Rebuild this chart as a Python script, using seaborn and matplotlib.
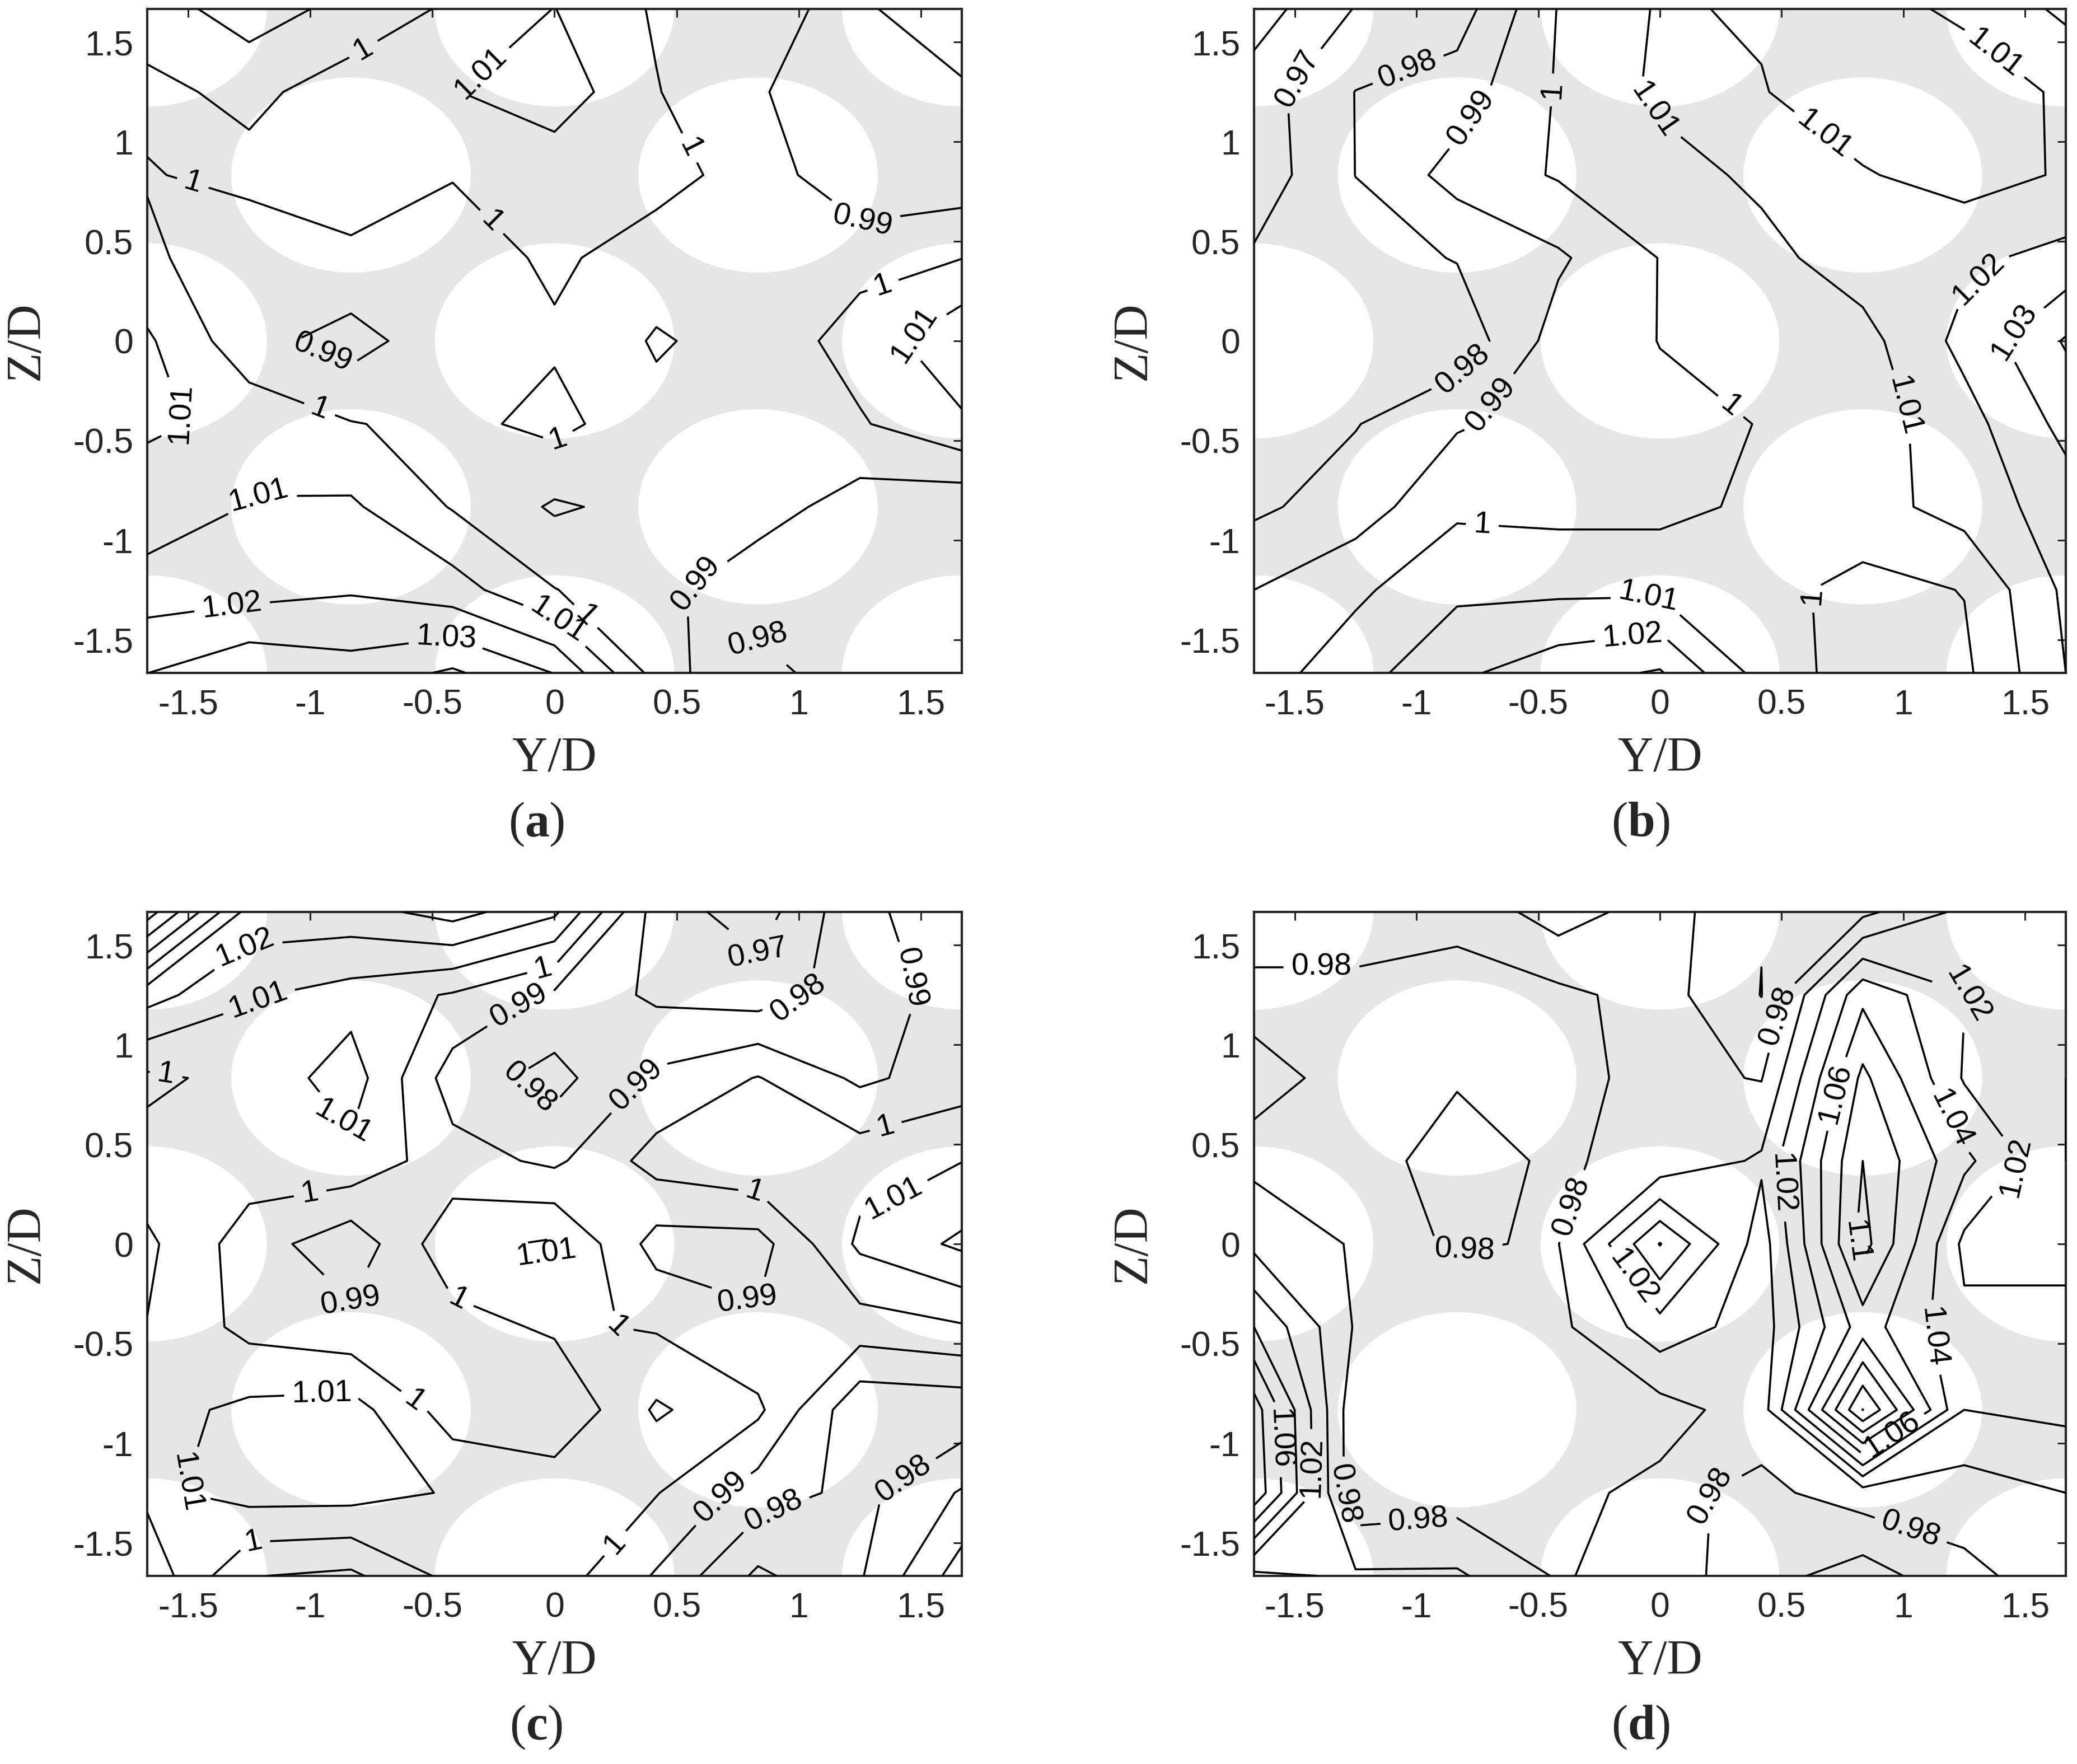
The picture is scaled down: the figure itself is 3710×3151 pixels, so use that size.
import numpy as np
import matplotlib
matplotlib.use('Agg')
import matplotlib.pyplot as plt
from matplotlib.patches import Ellipse
import seaborn as sns

# measurement grid (Y/D across, Z/D rows listed from top to bottom)
y_nodes = [-1.667, -1.25, -0.833, -0.417, 0.0, 0.417, 0.833, 1.25, 1.667]
z_nodes = [1.667, 1.25, 0.833, 0.417, 0.0, -0.417, -0.833, -1.25, -1.667]

# normalised velocity, panel (a)
u_a = [
    [0.995, 0.985, 0.9933, 1.0017, 1.0102, 0.9988, 0.992, 0.988, 0.999],
    [1.0025, 0.9975, 1.005, 1.0095, 1.016, 1.0005, 0.9905, 0.986, 0.988],
    [0.9993, 1.003, 1.004, 1.0005, 1.0035, 1.0036, 0.9958, 0.981, 0.9836],
    [1.002, 0.993, 0.9985, 0.995, 1.0018, 0.995, 0.996, 0.997, 0.9998],
    [1.0115, 0.9934, 0.9858, 0.9972, 0.9986, 0.989, 0.994, 1.0041, 1.0177],
    [1.012, 1.0066, 1.0005, 0.9972, 1.003, 0.993, 0.995, 0.999, 1.0083],
    [1.0033, 1.0105, 1.0115, 0.9993, 0.9887, 0.9932, 0.9947, 0.9852, 0.9825],
    [1.015, 1.0163, 1.019, 1.0144, 1.0003, 0.993, 0.983, 0.985, 0.986],
    [1.0299, 1.038, 1.034, 1.0415, 1.0297, 0.996, 0.978, 0.9834, 0.985],
]

# panel (b)
u_b = [
    [0.955, 0.9705, 0.975, 1.0005, 1.011, 1.009, 1.006, 1.012, 1.022],
    [0.965, 0.9802, 0.985, 1.001, 1.012, 1.0105, 1.004, 1.004, 1.0117],
    [0.964, 0.9801, 0.9939, 1.0009, 1.006, 1.012, 1.0108, 1.006, 1.011],
    [0.9713, 0.976, 0.9805, 0.9885, 1.0003, 1.007, 1.0151, 1.018, 1.023],
    [0.975, 0.976, 0.9733, 0.9942, 1.0002, 1.005, 1.0065, 1.023, 1.041],
    [0.975, 0.9795, 0.989, 0.994, 0.998, 1.0002, 1.005, 1.016, 1.033],
    [0.978, 0.985, 0.998, 0.997, 0.997, 1.002, 1.006, 1.014, 1.025],
    [0.99, 0.998, 1.008, 1.008, 1.008, 1.003, 0.997, 1.0003, 1.022],
    [0.995, 1.006, 1.018, 1.026, 1.031, 1.006, 0.995, 0.998, 1.02],
]

# panel (c)
u_c = [
    [1.075, 1.026, 1.026, 1.034, 1.022, 0.975, 0.965, 0.988, 0.995],
    [1.024, 1.011, 1.006, 0.999, 0.988, 0.978, 0.975, 0.985, 0.994],
    [0.998, 1.003, 1.015, 0.985, 0.9765, 0.992, 1.0005, 0.988, 0.995],
    [1.0037, 1.0054, 1.0074, 0.994, 0.988, 1.004, 1.0086, 1.006, 1.0098],
    [1.012, 0.995, 0.9832, 1.0072, 1.0115, 0.986, 0.986, 1.012, 1.022],
    [1.0097, 0.9969, 0.993, 0.996, 1.0016, 0.999, 0.9916, 0.9953, 0.999],
    [1.0062, 1.0124, 1.0143, 0.995, 0.9906, 1.0115, 1.002, 0.972, 0.973],
    [1.0078, 1.014, 1.014, 1.0091, 1.0071, 1.0005, 0.985, 0.977, 0.991],
    [1.017, 0.9904, 0.988, 1.003, 1.005, 0.989, 0.968, 0.979, 1.005],
]

# panel (d)
u_d = [
    [0.99, 0.99, 0.985, 1.01, 0.99, 0.961, 0.975, 1.005, 1.0],
    [0.975, 0.975, 0.973, 0.975, 0.988, 0.9595, 1.055, 1.0205, 1.005],
    [0.985, 0.975, 0.979, 0.975, 0.985, 0.979, 1.085, 1.018, 1.0],
    [0.975, 0.975, 0.985, 0.978, 0.985, 1.003, 1.1, 1.045, 1.0],
    [0.995, 0.978, 0.9805, 0.9795, 1.061, 0.99, 1.108, 1.015, 1.015],
    [1.04, 0.978, 0.975, 0.975, 1.012, 0.99, 1.07, 1.025, 1.025],
    [1.09, 0.965, 0.975, 0.978, 0.972, 0.99, 1.1405, 1.02, 1.025],
    [1.095, 0.965, 0.97, 0.975, 0.985, 0.975, 0.99, 0.99, 1.0],
    [0.995, 1.003, 1.003, 0.978, 0.99, 0.968, 0.95, 0.975, 0.99],
]

panels = ['a', 'b', 'c', 'd']
fields = [u_a, u_b, u_c, u_d]
level_sets = [np.round(np.arange(0.95, 1.085, 0.01), 2)] * 3 + [np.round(np.arange(0.96, 1.17, 0.02), 2)]

# where the contour labels sit (Y/D, Z/D)
label_spots = [
    [(-0.775, 1.45), (-0.305, 1.35), (-1.48, 0.795), (-0.26, 0.594), (0.555, 0.97), (1.26, 0.606),
     (1.35, 0.26), (1.48, 0.017), (-0.95, -0.065), (-1.5, -0.35), (-0.97, -0.37), (0.005, -0.47),
     (-1.21, -0.785), (0.57, -1.2), (-1.32, -1.33), (-0.007, -1.43), (0.13, -1.38), (-0.44, -1.52),
     (0.84, -1.46)],
    [(-1.46, 1.29), (-1.03, 1.35), (-0.81, 1.15), (-0.44, 1.26), (-0.045, 1.14), (0.66, 1.01),
     (1.34, 1.39), (1.27, 0.37), (1.44, 0.07), (-0.81, -0.14), (-0.67, -0.34), (0.31, -0.3),
     (0.97, -0.34), (-0.73, -0.93), (-0.045, -1.37), (-0.11, -1.51), (0.5, -1.29)],
    [(-1.29, 1.53), (-1.21, 1.22), (-0.04, 1.35), (-0.12, 1.15), (0.82, 1.39), (1.0, 1.23),
     (1.42, 1.32), (-1.59, 0.85), (-0.9, 0.58), (-0.12, 0.75), (0.31, 0.83), (-1.0, 0.25),
     (0.82, 0.27), (1.36, 0.57), (1.38, 0.25), (-0.85, -0.34), (-0.04, -0.07), (-0.4, -0.3),
     (0.2, -0.44), (0.77, -0.36), (-0.95, -0.78), (-0.58, -0.8), (-1.56, -1.18), (-1.23, -1.54),
     (0.245, -1.5), (0.69, -1.28), (0.91, -1.38), (1.43, -1.18)],
    [(-1.39, 1.37), (0.47, 1.15), (1.34, 1.36), (0.74, 0.75), (1.15, 0.6), (1.45, 0.4),
     (0.48, 0.3), (-0.36, 0.19), (-0.11, -0.17), (-0.8, -0.04), (0.81, 0.01), (1.16, -0.46),
     (-1.56, -0.98), (-1.42, -1.12), (-1.3, -1.26), (-1.0, -1.25), (0.16, -1.26), (0.95, -0.95),
     (1.06, -1.33)],
]

# white sphere sections on the grey packing background
sphere_centres = [(-1.667, 1.667), (0, 1.667), (1.667, 1.667),
                  (-0.833, 0.833), (0.833, 0.833),
                  (-1.667, 0), (0, 0), (1.667, 0),
                  (-0.833, -0.833), (0.833, -0.833),
                  (-1.667, -1.667), (0, -1.667), (1.667, -1.667)]

sns.set_style('white')
plt.rcParams['font.family'] = ['Liberation Sans', 'DejaVu Sans']
plt.rcParams['axes.unicode_minus'] = False
plt.rcParams['mathtext.fontset'] = 'custom'
plt.rcParams['mathtext.rm'] = 'Liberation Serif'
plt.rcParams['mathtext.bf'] = 'Liberation Serif:bold'

W, H = 3710, 3151
fig = plt.figure(figsize=(W / 100, H / 100), dpi=100)

# axes boxes in pixels: x0, y0 (top), x1, y1 (bottom)
boxes = [(263, 16, 1718, 1202), (2240, 16, 3690, 1202),
         (263, 1629, 1718, 2815), (2240, 1629, 3690, 2815)]
caption_x = [958, 2931, 958, 2931]

yy = np.array(y_nodes)
zz = np.array(z_nodes)[::-1]

for k in range(4):
    x0, y0, x1, y1 = boxes[k]
    ax = fig.add_axes([x0 / W, 1 - y1 / H, (x1 - x0) / W, (y1 - y0) / H])
    ax.set_facecolor('#e6e6e6')
    for c in sphere_centres:
        ax.add_patch(Ellipse(c, 0.98, 0.98, facecolor='white', edgecolor='none', zorder=0))

    ax.set_xlim(-1.667, 1.667)
    ax.set_ylim(-1.667, 1.667)

    u = np.flipud(np.array(fields[k]))
    cs = ax.contour(yy, zz, u, levels=level_sets[k], colors='black', linewidths=2.6, zorder=3)
    ax.clabel(cs, fmt='%g', fontsize=40, inline=True, inline_spacing=14,
              manual=label_spots[k])

    ticks = [-1.5, -1, -0.5, 0, 0.5, 1, 1.5]
    ax.set_xticks(ticks)
    ax.set_yticks(ticks)
    ax.set_xticklabels(['%g' % t for t in ticks])
    ax.set_yticklabels(['%g' % t for t in ticks])
    ax.tick_params(direction='in', top=True, right=True, length=11, width=2.2,
                   labelsize=45, colors='#262626')
    ax.tick_params(axis='x', pad=20)
    ax.tick_params(axis='y', pad=18)
    for s in ax.spines.values():
        s.set_linewidth(3)
        s.set_color('#262626')

    xc = (x0 + x1) / 2
    fig.text(xc / W, 1 - (y1 + 153) / H, 'Y/D', family='Liberation Serif', fontsize=63,
             ha='center', va='center', color='#262626')
    fig.text((x0 - 216) / W, 1 - (y0 + y1) / 2 / H, 'Z/D', family='Liberation Serif', fontsize=63,
             ha='center', va='center', rotation=90, color='#262626')
    fig.text(caption_x[k] / W, 1 - (y1 + 271) / H, '($\\mathbf{%s}$)' % panels[k],
             family='Liberation Serif', fontsize=63, ha='center', va='center')

fig.savefig('out.png', dpi=100)
